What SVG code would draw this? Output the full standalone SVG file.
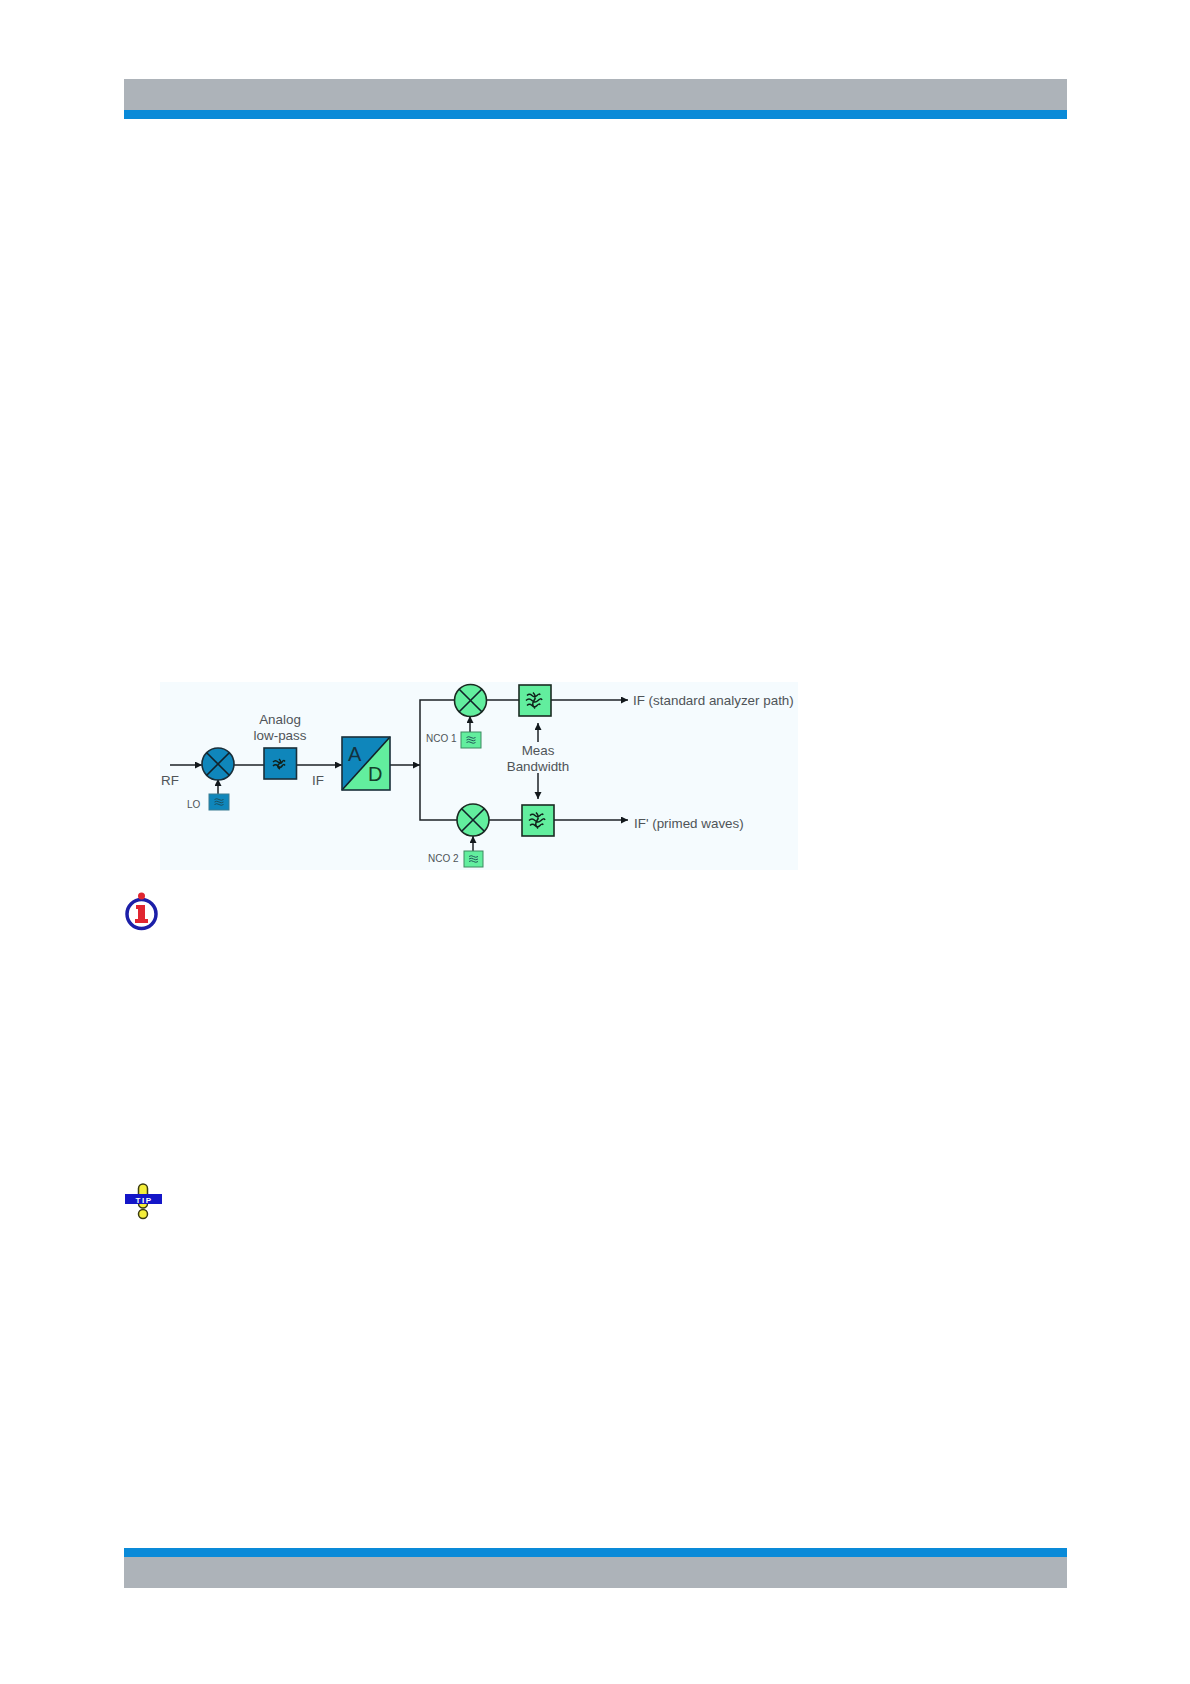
<svg xmlns="http://www.w3.org/2000/svg" width="1190" height="1684" viewBox="0 0 1190 1684">
<defs>
<style>
text{font-family:"Liberation Sans",Arial,sans-serif;fill:#4f5458;font-size:13.4px}
.s{font-size:10px}
.b{fill:#0f86bb;stroke:#1a2f3a;stroke-width:1.6}
.g{fill:#62ee9e;stroke:#1b2b22;stroke-width:1.6}
.b2{fill:#0f86bb;stroke:#3a7d92;stroke-width:1}
.g2{fill:#62ee9e;stroke:#3c8a60;stroke-width:1}
.w{stroke:#12222a;stroke-width:1.6;fill:none}
.t{stroke:#10201a;stroke-width:1.5;fill:none}
.o{stroke:#1c4a55;stroke-width:.9;fill:none}
.c{stroke:#1c2226;stroke-width:1.5;fill:none}
.a{marker-end:url(#ah)}
</style>
<marker id="ah" markerWidth="8" markerHeight="8" refX="7" refY="3.500" orient="auto" markerUnits="userSpaceOnUse"><path d="M0 0L7 3.500L0 7Z" fill="#12181c"/></marker>
<path id="x" d="M-11.300-11.300L11.300 11.300M11.300-11.300L-11.300 11.300"/>
<path id="f" d="M-8-5q2.500-2.500 5 0t5 0t3-.5M-9 0q3-3 6 0t6 0t4-.5M-8 5q2.500-2.500 5 0t5 0t3-.5M-2-8q4 4 1 8t1 8"/>
<path id="l" d="M-7-2q2.500-2.500 5 0t4 0t3-.5M-7 2q2.500-2.500 5 0t4 0t3-.5M-1-5q3 2.500 0 5t1 5"/>
<path id="o" d="M-4.500-2.500q2.200-1.600 4.500 0t4.500 0M-4.500 0q2.200-1.600 4.500 0t4.500 0M-4.500 2.500q2.200-1.600 4.500 0t4.500 0"/>
</defs>
<rect width="1190" height="1684" fill="#fff"/>
<g id="page-frame">
<rect x="124" y="79" width="943" height="31" fill="#adb3b9"/>
<rect x="124" y="110" width="943" height="9" fill="#0a8ad8"/>
<rect x="124" y="1548" width="943" height="9" fill="#0a8ad8"/>
<rect x="124" y="1557" width="943" height="31" fill="#adb3b9"/>
</g>
<rect id="diagram-bg" x="160" y="682" width="638" height="188" fill="#f5fbfe"/>
<g id="connectors">
<path class="c a" d="M170 765H202"/>
<path class="c" d="M234 765H264"/>
<path class="c a" d="M297 765H342"/>
<path class="c a" d="M390 765H420"/>
<path class="c" d="M454 700H420V820H457"/>
<path class="c" d="M486 700H519"/>
<path class="c" d="M489 820H522"/>
<path class="c a" d="M551 700H628"/>
<path class="c a" d="M554 820H628"/>
<path class="c a" d="M218 794V779"/>
<path class="c a" d="M470 732V716"/>
<path class="c a" d="M473 851V836"/>
<path class="c a" d="M538 742V723"/>
<path class="c a" d="M538 773V799"/>
</g>
<g id="mixer-lo"><circle class="b" cx="218" cy="764" r="16"/><use href="#x" x="218" y="764" class="w"/></g>
<g id="lowpass"><rect class="b" x="264" y="748" width="32.500" height="31"/><use href="#l" x="280" y="764" class="t"/></g>
<g id="adc">
<rect x="342" y="737" width="48" height="53" fill="#0f86bb"/>
<path d="M390 737V790H342Z" fill="#62ee9e"/>
<path class="w" d="M390 737L342 790"/>
<rect x="342" y="737" width="48" height="53" fill="none" stroke="#1a2f3a" stroke-width="1.600"/>
<text x="348" y="761" style="font-size:20px;fill:#13323f">A</text>
<text x="368" y="781" style="font-size:20px;fill:#14402a">D</text>
</g>
<g id="lo"><rect class="b2" x="209" y="794" width="20" height="16"/><use href="#o" x="219" y="802" class="o"/></g>
<g id="mixer-1"><circle class="g" cx="470.500" cy="700.500" r="16"/><use href="#x" x="470.500" y="700.500" class="w"/></g>
<g id="mixer-2"><circle class="g" cx="473" cy="820" r="16"/><use href="#x" x="473" y="820" class="w"/></g>
<g id="nco-1"><rect class="g2" x="461" y="732" width="20" height="16"/><use href="#o" x="471" y="740" class="o"/></g>
<g id="nco-2"><rect class="g2" x="464" y="851" width="19" height="16"/><use href="#o" x="473.500" y="859" class="o"/></g>
<g id="filter-1"><rect class="g" x="519" y="685" width="32" height="31"/><use href="#f" x="535" y="700.500" class="t"/></g>
<g id="filter-2"><rect class="g" x="522" y="805" width="32" height="31"/><use href="#f" x="538" y="820.500" class="t"/></g>
<g id="labels">
<text x="280" y="724" text-anchor="middle">Analog</text>
<text x="280" y="740" text-anchor="middle">low-pass</text>
<text x="161" y="785">RF</text>
<text x="312" y="785">IF</text>
<text class="s" x="187" y="808">LO</text>
<text class="s" x="426" y="742">NCO 1</text>
<text class="s" x="428" y="862">NCO 2</text>
<text x="538" y="755" text-anchor="middle">Meas</text>
<text x="538" y="771" text-anchor="middle">Bandwidth</text>
<text x="633" y="705">IF (standard analyzer path)</text>
<text x="634" y="828">IF' (primed waves)</text>
</g>
<g id="info-icon">
<circle cx="141.500" cy="914" r="14.500" fill="#fff" stroke="#1c1fa8" stroke-width="3.500"/>
<circle cx="141.500" cy="896" r="3.500" fill="#e02630"/>
<path d="M136 905H145V919H148V923H135V919H138V909H136Z" fill="#e02630"/>
</g>
<g id="tip-icon">
<rect x="138.500" y="1184" width="9" height="24" rx="4.500" fill="#f4ee3a" stroke="#3a3a10" stroke-width="1.500"/>
<circle cx="143" cy="1214" r="4.500" fill="#f4ee3a" stroke="#3a3a10" stroke-width="1.500"/>
<rect x="125" y="1194" width="37" height="10" fill="#1416c8"/>
<text x="144" y="1202.500" text-anchor="middle" style="font-size:8px;font-weight:bold;fill:#fff;letter-spacing:1.500px">TIP</text>
</g>
</svg>
